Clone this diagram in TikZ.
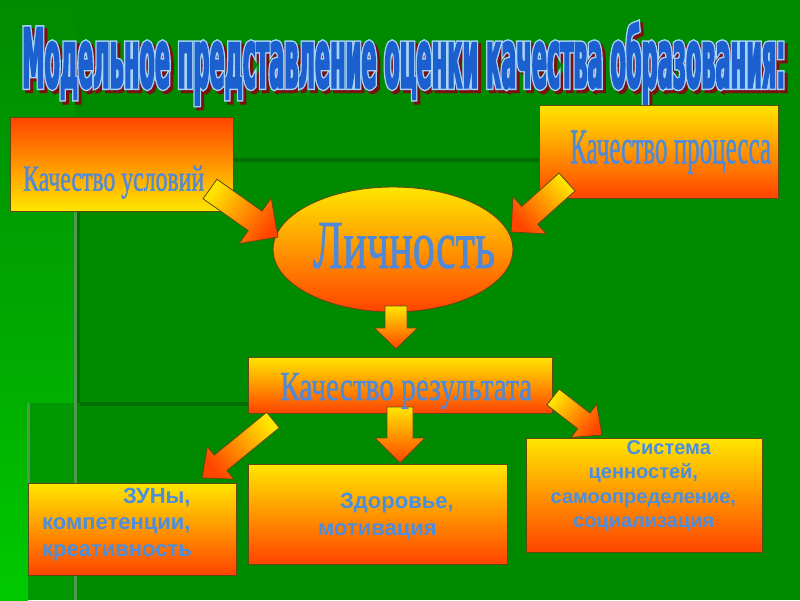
\documentclass[tikz,border=0pt]{standalone}
\usepackage{fontspec}
\usepackage{graphicx}
\setmainfont{Liberation Serif}
\newfontfamily\lblfont{Liberation Serif}[FakeBold=1.2]
\newfontfamily\bodyfont{Liberation Sans}
\newfontfamily\titleFill{DejaVu Sans}[FakeStretch=0.3, FakeBold=1.5]
\newfontfamily\titleOut{DejaVu Sans}[FakeStretch=0.3, FakeBold=5]
\usetikzlibrary{calc,shapes.geometric}
\definecolor{bg}{HTML}{008A00}
\definecolor{bglight}{HTML}{00B000}
\definecolor{bgbright}{HTML}{00CA00}
\definecolor{bgmid}{HTML}{009800}
\definecolor{dline}{HTML}{006E00}
\definecolor{gline}{HTML}{4E9A4E}
\definecolor{yel}{HTML}{FFE600}
\definecolor{hot}{HTML}{FF4400}
\definecolor{bord}{HTML}{5E4A12}
\definecolor{lblue}{HTML}{5089D8}
\definecolor{bblue}{HTML}{4A8EDF}
\definecolor{tblue}{HTML}{1C60D0}
\definecolor{tline}{HTML}{A8D4F8}
\definecolor{tshadow}{HTML}{7A1010}
\newcommand\titletxt{Модельное представление оценки качества образования:}
\newcommand\titlebox[1]{\resizebox{763pt}{66pt}{#1\bfseries\fontsize{86}{86}\selectfont\titletxt}}
\newcommand\blockarrow[6]{%
  \shade[arrowbody, shading angle=#6]
    let \p1=($(#2)-(#1)$), \n1={atan2(\y1,\x1)}, \n2={veclen(\x1,\y1)} in
    [shift={(#1)}, rotate=\n1]
    (0,-#3) -- ({\n2-#4},-#3) -- ({\n2-#4},-#5) -- (\n2,0) --
    ({\n2-#4},#5) -- ({\n2-#4},#3) -- (0,#3) -- cycle;}
\tikzset{
  box/.style={rectangle, draw=bord, line width=0.9pt, inner sep=0pt},
  upbox/.style={box, top color=yel, bottom color=hot},
  downbox/.style={box, top color=hot, bottom color=yel},
  arrowbody/.style={draw=bord, line width=0.8pt, top color=yel, bottom color=hot},
  lbl/.style={inner sep=0pt, anchor=base west, text=lblue, font=\lblfont},
  bodytxt/.style={inner sep=0pt, text=bblue, font=\bodyfont\bfseries\fontsize{22}{22}\selectfont},
  bodytxtS/.style={inner sep=0pt, text=bblue, font=\bodyfont\bfseries\fontsize{20}{20}\selectfont},
  titlepart/.style={inner sep=0pt, anchor=base west},
}
\begin{document}
\begin{tikzpicture}[x=1pt,y=-1pt]
\useasboundingbox (0,0) rectangle (800,600);
% background
\fill[bg] (0,0) rectangle (800,600);
\shade[top color=bg, bottom color=bglight] (0,0) rectangle (75,403);
\shade[top color=bglight, bottom color=bgbright] (0,403) rectangle (28,600);
\fill[bgmid] (28,403) rectangle (75,600);
\fill[gline] (74,211) rectangle (77,600);
\fill[dline] (77,211) rectangle (80,403);
\fill[dline] (80,402) rectangle (248,406);
\fill[gline] (27,403) rectangle (30,483);
\fill[dline] (233,158) rectangle (539,162);

% title: shadow, outline, fill
\node[titlepart, text=tshadow] (titleS) at (25,91) {\titlebox{\titleOut}};
\node[titlepart, text=tline] (titleO) at (22,88) {\titlebox{\titleOut}};
\node[titlepart, text=tblue] (title) at (22,88) {\titlebox{\titleFill}};

% boxes
\node[downbox, minimum width=223pt, minimum height=94pt] (cond) at (121.5,164) {};
\node[upbox, ellipse, minimum width=240pt, minimum height=125pt] (pers) at (393,249.5) {};
\node[upbox, minimum width=239pt, minimum height=93pt] (proc) at (658.5,151.5) {};
\node[upbox, minimum width=304pt, minimum height=56pt] (res) at (400,385) {};
\node[upbox, minimum width=208pt, minimum height=92pt] (zun) at (132,529) {};
\node[upbox, minimum width=259pt, minimum height=100pt] (health) at (377.5,514) {};
\node[upbox, minimum width=236pt, minimum height=114pt] (sys) at (644,495) {};

% arrow ends
\coordinate (a1t) at (210,189); \coordinate (a1h) at (278,237);
\coordinate (a2t) at (567,182); \coordinate (a2h) at (511,232);
\coordinate (a3t) at (396,306); \coordinate (a3h) at (396,349);
\coordinate (a4t) at (400,407); \coordinate (a4h) at (400,463);
\coordinate (a5t) at (273,420); \coordinate (a5h) at (202,478);
\coordinate (a6t) at (553,397); \coordinate (a6h) at (602,435);
\blockarrow{a1t}{a1h}{12}{28}{28}{54.8}
\blockarrow{a2t}{a2h}{12}{25}{25}{-48.2}
\blockarrow{a3t}{a3h}{11}{21}{21.5}{0}
\blockarrow{a4t}{a4h}{13}{25}{25}{0}
\blockarrow{a5t}{a5h}{10}{24}{21}{-50.8}
\blockarrow{a6t}{a6h}{10}{23}{21}{52.2}

% serif labels
\node[lbl] (condT) at (23,190.7) {\resizebox{181pt}{\height}{\fontsize{36.6}{40}\selectfont Качество условий}};
\node[lbl] (procT) at (570,163.3) {\resizebox{201pt}{\height}{\fontsize{49.8}{52}\selectfont Качество процесса}};
\node[lbl] (persT) at (313,268) {\resizebox{182pt}{\height}{\fontsize{68.7}{70}\selectfont Личность}};
\node[lbl] (resT) at (280,400) {\resizebox{252pt}{\height}{\fontsize{41.2}{44}\selectfont Качество результата}};

% body texts
\node[bodytxt, anchor=base west] (zun1) at (123,503) {ЗУНы,};
\node[bodytxt, anchor=base west] (zun2) at (42,529) {компетенции,};
\node[bodytxt, anchor=base west] (zun3) at (42,556) {креативность};
\node[bodytxt, anchor=base west] (hl1) at (340,508) {Здоровье,};
\node[bodytxt, anchor=base west] (hl2) at (318,535) {мотивация};
\node[bodytxtS, anchor=base] (sy1) at (668.8,454) {Система};
\node[bodytxtS, anchor=base] (sy2) at (643.3,478.5) {ценностей,};
\node[bodytxtS, anchor=base] (sy3) at (643.3,503) {самоопределение,};
\node[bodytxtS, anchor=base] (sy4) at (643.7,527.5) {социализация};
\end{tikzpicture}
\end{document}
